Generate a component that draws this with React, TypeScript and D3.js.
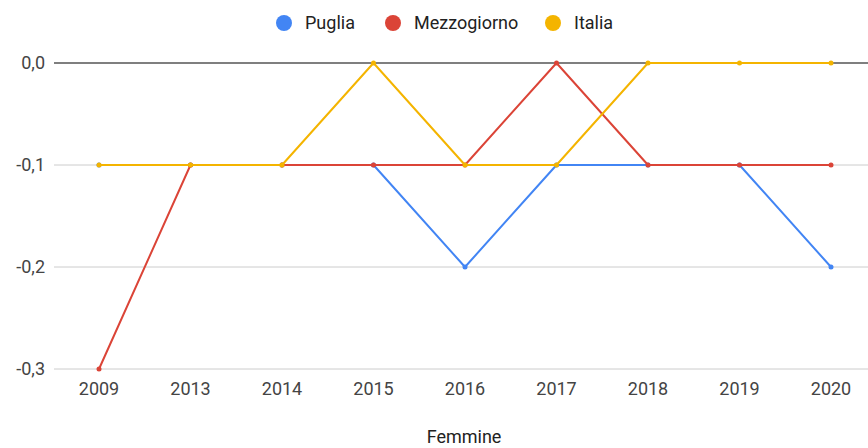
import React from "react";
import * as d3 from "d3";

const categories = ["2009", "2013", "2014", "2015", "2016", "2017", "2018", "2019", "2020"];
const puglia = [-0.1, -0.1, -0.1, -0.1, -0.2, -0.1, -0.1, -0.1, -0.2];
const mezzogiorno = [-0.3, -0.1, -0.1, -0.1, -0.1, 0.0, -0.1, -0.1, -0.1];
const italia = [-0.1, -0.1, -0.1, 0.0, -0.1, -0.1, 0.0, 0.0, 0.0];
const yTicks = [0, -0.1, -0.2, -0.3];
const seriesNames = ["Puglia", "Mezzogiorno", "Italia"];
const seriesColors = ["#4285F4", "#DB4437", "#F4B400"];
const xTitle = "Femmine";

const W = 868;
const H = 448;
const FONT = "Roboto, Arial, sans-serif";

export default function App() {
  const x = d3.scalePoint<string>().domain(categories).range([99, 831]);
  const y = d3.scaleLinear().domain([-0.3, 0]).range([369, 63]);
  const data = [puglia, mezzogiorno, italia];
  const line = d3
    .line<number>()
    .x((_, i) => x(categories[i]) as number)
    .y((d) => y(d));
  const fmt = (v: number) => d3.format(".1f")(v).replace(".", ",").replace("−", "-");
  const legendX = [284, 393, 553];

  return (
    <svg
      width={W}
      height={H}
      style={{ position: "absolute", left: 0, top: 0, background: "#fff", fontFamily: FONT }}
    >
      <rect x={0} y={0} width={W} height={H} fill="#fff" />
      {/* legend */}
      {seriesNames.map((n, i) => (
        <g key={n}>
          <circle cx={legendX[i]} cy={23} r={8} fill={seriesColors[i]} />
          <text x={legendX[i] + 21} y={23} dy="0.35em" fontSize={18} fill="#222">
            {n}
          </text>
        </g>
      ))}
      {/* grid */}
      {yTicks.map((t) => (
        <g key={t}>
          <line
            x1={54}
            x2={W}
            y1={y(t)}
            y2={y(t)}
            stroke={t === 0 ? "#555" : "#ccc"}
            strokeWidth={t === 0 ? 1.5 : 1}
          />
          <text x={45} y={y(t)} dy="0.35em" textAnchor="end" fontSize={18} fill="#444">
            {fmt(t)}
          </text>
        </g>
      ))}
      {/* x labels */}
      {categories.map((c) => (
        <text key={c} x={x(c)} y={389} dy="0.35em" textAnchor="middle" fontSize={18} fill="#444">
          {c}
        </text>
      ))}
      <text x={464} y={437} dy="0.35em" textAnchor="middle" fontSize={18} fill="#222">
        {xTitle}
      </text>
      {/* series */}
      {data.map((s, si) => (
        <g key={si}>
          <path d={line(s) as string} fill="none" stroke={seriesColors[si]} strokeWidth={2} strokeLinejoin="round" />
          {s.map((v, i) => (
            <circle key={i} cx={x(categories[i])} cy={y(v)} r={2.5} fill={seriesColors[si]} />
          ))}
        </g>
      ))}
    </svg>
  );
}
